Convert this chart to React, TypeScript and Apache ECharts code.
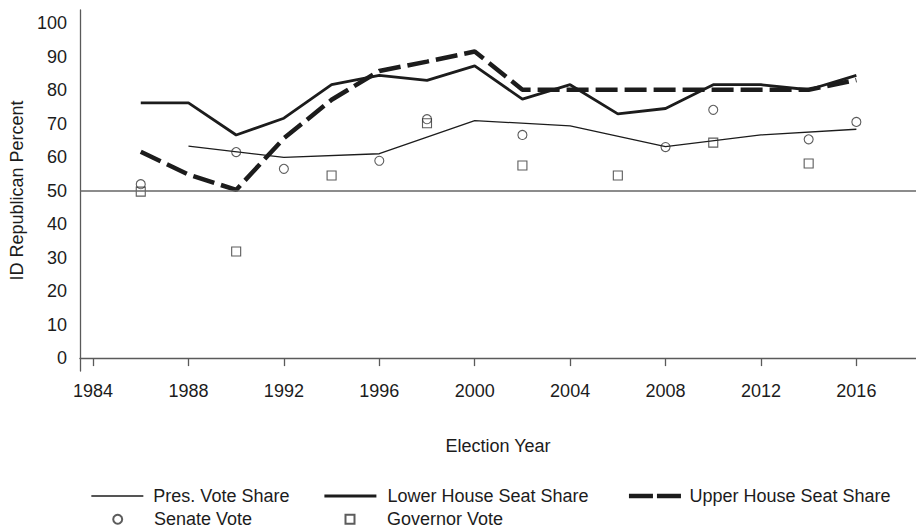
import React, { useEffect, useRef } from "react";
import * as echarts from "echarts";

const presYears = [1988, 1992, 1996, 2000, 2004, 2008, 2012, 2016];
const presShare = [63.3, 59.9, 61.0, 70.9, 69.3, 63.1, 66.6, 68.3];

const houseYears = [1986, 1988, 1990, 1992, 1994, 1996, 1998, 2000, 2002, 2004, 2006, 2008, 2010, 2012, 2014, 2016];
const lowerHouse = [76.2, 76.2, 66.6, 71.6, 81.6, 84.4, 82.9, 87.2, 77.3, 81.6, 72.9, 74.5, 81.6, 81.6, 80.1, 84.4];
const upperHouse = [61.6, 54.8, 50.2, 65.6, 77.1, 85.7, 88.5, 91.5, 80.1, 80.1, 80.1, 80.1, 80.1, 80.1, 80.1, 83.0];

const senateYears = [1986, 1990, 1992, 1996, 1998, 2002, 2008, 2010, 2014, 2016];
const senateVote = [51.9, 61.5, 56.5, 58.9, 71.3, 66.6, 63.0, 74.1, 65.3, 70.5];

const governorYears = [1986, 1990, 1994, 1998, 2002, 2006, 2010, 2014];
const governorVote = [49.7, 31.8, 54.5, 70.1, 57.5, 54.5, 64.3, 58.1];

const xTicks = [1984, 1988, 1992, 1996, 2000, 2004, 2008, 2012, 2016];
const yTicks = [0, 10, 20, 30, 40, 50, 60, 70, 80, 90, 100];

const seriesNames = [
  "Pres. Vote Share",
  "Lower House Seat Share",
  "Upper House Seat Share",
  "Senate Vote",
  "Governor Vote",
];

const zip = (xs: number[], ys: number[]) => xs.map((x, i) => [x, ys[i]]);

const FONT = "'Liberation Sans', Arial, sans-serif";
const INK = "#1c1c1c";
const AXIS = "#5a5a5a";

export default function App() {
  const ref = useRef<HTMLDivElement>(null);
  useEffect(() => {
    if (!ref.current) return;
    const chart = echarts.init(ref.current, undefined, { renderer: "svg" });
    const legendCfg: any[] = [
      { left: 90.7, top: 487, w: 52, pad: 5, line: { color: INK, width: 1.3, type: "solid" } },
      { left: 323, top: 487, w: 52, pad: 6, line: { color: INK, width: 2.8, type: "solid" } },
      { left: 626.7, top: 487, w: 52, pad: 3.5, line: { color: INK, width: 4.5, type: [24, 4] } },
      { left: 112.2, top: 510.2, w: 9, pad: 26.8, line: null },
      { left: 344.5, top: 510.2, w: 9, pad: 27.5, line: null },
    ];
    chart.setOption({
      animation: false,
      backgroundColor: "#ffffff",
      textStyle: { fontFamily: FONT },
      grid: { left: 75, top: 10, right: 0, bottom: 158, containLabel: false },
      xAxis: {
        type: "value",
        min: 1983.45,
        max: 2018.5,
        name: "Election Year",
        nameLocation: "middle",
        nameGap: 66,
        nameTextStyle: { fontSize: 18, color: INK, fontFamily: FONT },
        axisLine: { show: true, lineStyle: { color: AXIS, width: 1.3 } },
        axisTick: { show: true, length: 8, lineStyle: { color: AXIS, width: 1.3 }, customValues: xTicks },
        axisLabel: {
          fontSize: 18,
          color: INK,
          margin: 11,
          fontFamily: FONT,
          customValues: xTicks,
          formatter: (v: number) => String(v),
        },
        splitLine: { show: false },
      },
      yAxis: {
        type: "value",
        min: -3.85,
        max: 103.9,
        name: "ID Republican Percent",
        nameLocation: "middle",
        nameGap: 51,
        nameTextStyle: { fontSize: 18, color: INK, fontFamily: FONT },
        axisLine: { show: true, lineStyle: { color: AXIS, width: 1.3 } },
        axisTick: { show: false },
        axisLabel: {
          fontSize: 18,
          color: INK,
          margin: 13,
          fontFamily: FONT,
          customValues: yTicks,
          formatter: (v: number) => String(v),
        },
        splitLine: { show: false },
      },
      legend: seriesNames.map((n, i) => {
        const c = legendCfg[i];
        return {
          data: [n],
          left: c.left,
          top: c.top,
          padding: 0,
          itemWidth: c.w,
          itemHeight: 9,
          selectedMode: false,
          ...(c.line ? { itemStyle: { opacity: 0 }, lineStyle: c.line } : {}),
          textStyle: { fontSize: 18, color: INK, fontFamily: FONT, lineHeight: 14, padding: [0, 0, 0, c.pad] },
        };
      }),
      series: [
        {
          name: seriesNames[0],
          type: "line",
          data: zip(presYears, presShare),
          symbol: "none",
          lineStyle: { color: INK, width: 1.3 },
          itemStyle: { color: INK },
          z: 3,
          markLine: {
            silent: true,
            symbol: "none",
            label: { show: false },
            lineStyle: { color: "#666666", width: 1.6, type: "solid" },
            data: [{ yAxis: 50 }],
          },
        },
        {
          name: seriesNames[1],
          type: "line",
          data: zip(houseYears, lowerHouse),
          symbol: "none",
          lineStyle: { color: INK, width: 2.8 },
          itemStyle: { color: INK },
          z: 3,
        },
        {
          name: seriesNames[2],
          type: "line",
          data: zip(houseYears, upperHouse),
          symbol: "none",
          lineStyle: { color: INK, width: 4.5, type: [22, 7] },
          itemStyle: { color: INK },
          z: 3,
        },
        {
          name: seriesNames[3],
          type: "scatter",
          data: zip(senateYears, senateVote),
          symbol: "circle",
          symbolSize: 9,
          itemStyle: { color: "rgba(255,255,255,0)", borderColor: "#333", borderWidth: 1.1 },
          z: 4,
        },
        {
          name: seriesNames[4],
          type: "scatter",
          data: zip(governorYears, governorVote),
          symbol: "rect",
          symbolSize: 9,
          itemStyle: { color: "rgba(255,255,255,0)", borderColor: "#333", borderWidth: 1.1 },
          z: 4,
        },
      ],
    });
    return () => chart.dispose();
  }, []);
  return (
    <div
      ref={ref}
      style={{ position: "fixed", left: 0, top: 0, width: 916, height: 529, background: "#fff" }}
    />
  );
}
